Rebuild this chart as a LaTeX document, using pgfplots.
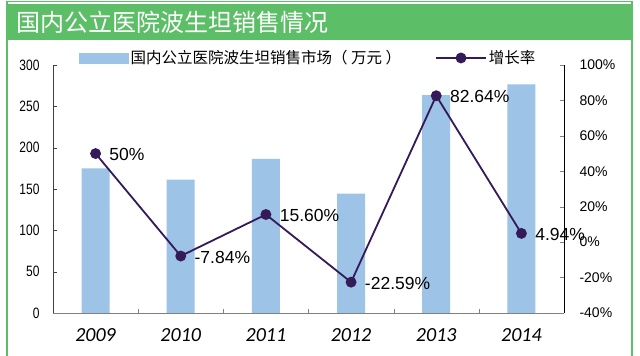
\documentclass[border=0pt]{standalone}
\usepackage{pgfplots}
\pgfplotsset{compat=1.18}
\usepackage{fontspec}
\setmainfont{Liberation Sans}
\newfontfamily\cjk{Noto Sans CJK SC}
\newfontfamily\yearfont{Carlito}
\definecolor{bannergreen}{RGB}{92,190,102}
\definecolor{barblue}{RGB}{157,195,230}
\definecolor{linepurple}{RGB}{52,26,88}
\pgfplotsset{
  longline legend/.style={legend image code/.code={\draw[mark repeat=2, mark phase=2, ##1] plot coordinates {(0pt,0pt) (25pt,0pt) (50pt,0pt)};}},
  bigbox legend/.style={legend image code/.code={\fill[barblue] (0pt,-5pt) rectangle (49pt,5pt);}},
}
\begin{document}
\begin{tikzpicture}[x=1pt,y=1pt]
\useasboundingbox (0,0) rectangle (640,356);
\fill[white] (0,0) rectangle (640,356);
\fill[bannergreen] (7,316) rectangle (632,352);
\draw[bannergreen, line width=1.2pt] (7,-2) -- (7,354.5) -- (632,354.5) -- (632,-2);
\node[anchor=west, text=white, font=\cjk\fontsize{24}{24}\selectfont, inner sep=0pt] at (16,334) {国内公立医院波生坦销售情况};

\begin{axis}[
  at={(53pt,43pt)}, anchor=south west, scale only axis,
  width=511pt, height=248pt,
  xmin=-0.5, xmax=5.5, ymin=0, ymax=300,
  axis y line*=left, axis x line*=bottom,
  x axis line style={draw=gray, -}, y axis line style={draw=black!75, -},
  ytick={0,50,...,300},
  tick align=inside, major tick length=4pt,
  ytick style={draw=black!75},
  yticklabel={\scalebox{0.8}[1]{\pgfmathprintnumber{\tick}}},
  yticklabel style={font=\fontsize{15}{15}\selectfont, anchor=east, xshift=-10pt},
  /pgf/number format/assume math mode=true,
  xtick={0.5,1.5,2.5,3.5,4.5}, xticklabels={},
  xtick style={draw=gray},
  extra x ticks={0,1,2,3,4,5},
  extra x tick labels={2009,2010,2011,2012,2013,2014},
  extra x tick style={major tick length=0pt, xticklabel style={font=\yearfont\itshape\fontsize{20}{20}\selectfont, yshift=-12pt}},
  clip=false,
]
\addplot[ybar, bar width=28pt, fill=barblue, draw=none] coordinates {
  (0,175) (1,161.3) (2,186.5) (3,144.4) (4,263.7) (5,276.7)
};
\end{axis}

\begin{axis}[
  at={(53pt,43pt)}, anchor=south west, scale only axis,
  width=511pt, height=248pt,
  xmin=-0.5, xmax=5.5, ymin=-40, ymax=100,
  axis y line*=right, axis x line=none,
  y axis line style={draw=black, -},
  ytick={-40,-20,...,100},
  tick align=inside, major tick length=4pt,
  yticklabel={\pgfmathprintnumber{\tick}\%},
  yticklabel style={font=\fontsize{14}{14}\selectfont, anchor=west, xshift=12pt},
  /pgf/number format/assume math mode=true,
  clip=false,
  legend columns=2,
  legend style={at={(0.051,1)}, anchor=west, yshift=7pt, draw=none, fill=none,
    font=\cjk\fontsize{15.5}{15.5}\selectfont, inner sep=0pt,
    nodes={inner sep=2pt},
    /tikz/column 2/.style={column sep=32pt}},
]
\addlegendimage{bigbox legend}
\addlegendentry{国内公立医院波生坦销售市场（ 万元 ）}
\addplot[color=linepurple, line width=1.8pt, mark=*, mark size=4.5pt,
  mark options={fill=linepurple, draw=linepurple},
  nodes near coords, point meta=explicit symbolic,
  every node near coord/.style={anchor=west, xshift=13pt, yshift=-1pt, inner sep=0pt,
    text=black, font=\fontsize{17.5}{17.5}\selectfont},
  longline legend
] coordinates {
  (0,50) [50\%]
  (1,-7.84) [-7.84\%]
  (2,15.6) [15.60\%]
  (3,-22.59) [-22.59\%]
  (4,82.64) [82.64\%]
  (5,4.94) [4.94\%]
};
\addlegendentry{增长率}
\end{axis}
\end{tikzpicture}
\end{document}
